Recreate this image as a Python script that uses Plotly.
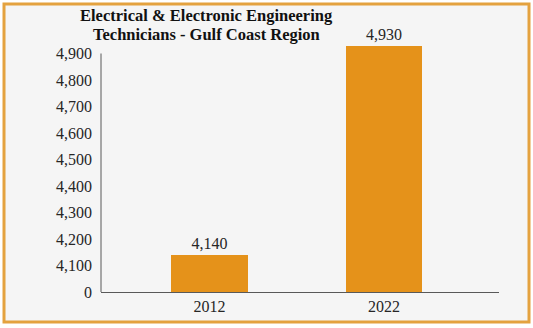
import plotly.graph_objects as go

# Chart data
years = ["2012", "2022"]
employment = [4140, 4930]
tick_values = [4000, 4100, 4200, 4300, 4400, 4500, 4600, 4700, 4800, 4900]
tick_labels = ["0", "4,100", "4,200", "4,300", "4,400", "4,500", "4,600", "4,700", "4,800", "4,900"]
title_lines = ["Electrical & Electronic Engineering", "Technicians - Gulf Coast Region"]

BAR = "#E5921A"
FRAME = "#E4A23F"
PANEL = "#F5F5F5"
AXIS = "#595959"
FONT = "Liberation Serif"

fig = go.Figure(
    go.Bar(
        x=years,
        y=employment,
        width=0.44,
        marker=dict(color=BAR, line=dict(width=0)),
        text=[f"{v:,}" for v in employment],
        textposition="outside",
        cliponaxis=False,
        textfont=dict(family=FONT, size=16, color="#262626"),
        hoverinfo="x+y",
    )
)

# Outer panel with orange frame
fig.add_shape(
    type="rect", xref="paper", yref="paper",
    x0=-0.2437, x1=1.0754, y0=-0.119, y1=1.1429,
    fillcolor=PANEL, line=dict(color=FRAME, width=3), layer="below",
)

# Vertical axis line running from the lowest to the highest tick
fig.add_shape(
    type="line", xref="paper", yref="y",
    x0=0, x1=0, y0=tick_values[0], y1=tick_values[-1],
    line=dict(color=AXIS, width=1),
)

# Two-line bold title, each line placed separately for tight spacing
for line, ypos in zip(title_lines, [1.099, 1.022]):
    fig.add_annotation(
        text=f"<b>{line}</b>",
        xref="paper", yref="paper", x=0.264, y=ypos,
        xanchor="center", yanchor="middle", showarrow=False,
        font=dict(family=FONT, size=16.5, color="#111111"),
    )

fig.update_layout(
    width=533, height=328,
    margin=dict(l=101, r=34, t=40, b=36),
    paper_bgcolor="white",
    plot_bgcolor="rgba(0,0,0,0)",
    showlegend=False,
    bargap=0,
    font=dict(family=FONT, size=16, color="#262626"),
    xaxis=dict(
        type="category",
        range=[-0.622, 1.659],
        showline=True, linecolor=AXIS, linewidth=1,
        showgrid=False, ticks="", zeroline=False,
        tickfont=dict(family=FONT, size=16, color="#262626"),
    ),
    yaxis=dict(
        range=[4000, 4951],
        tickvals=tick_values, ticktext=tick_labels,
        showline=False, showgrid=False, zeroline=False, ticks="",
        ticklabelstandoff=8,
        tickfont=dict(family=FONT, size=16, color="#262626"),
    ),
)

fig.write_html("out.html")
